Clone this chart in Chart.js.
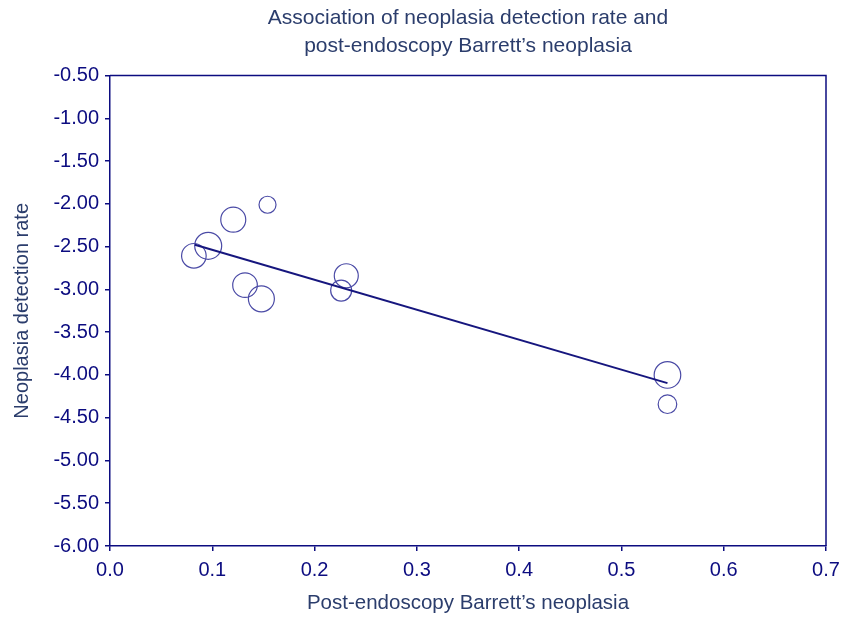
<!DOCTYPE html>
<html>
<head>
<meta charset="utf-8">
<script src="https://cdn.jsdelivr.net/npm/chart.js@4/dist/chart.umd.min.js"></script>
<style>
  html, body { margin: 0; padding: 0; background: #fff; }
  #wrap { width: 851px; height: 617px; }
</style>
</head>
<body>
<div id="wrap"><canvas id="myChart" width="851" height="617"></canvas></div>
<script>
// study values
var barrettRate = [0.154, 0.1205, 0.096, 0.082, 0.132, 0.148, 0.231, 0.226, 0.545, 0.545];
var detectionRate = [-2.01, -2.185, -2.49, -2.607, -2.95, -3.11, -2.84, -3.013, -4.0, -4.342];
var studyWeight = [8.5, 12.5, 13.5, 12.3, 12.3, 13, 12, 10.5, 13.3, 9.3];

// fitted regression line end points
var fitX = [0.083, 0.545];
var fitY = [-2.478, -4.096];

var yTicks = [-0.5, -1, -1.5, -2, -2.5, -3, -3.5, -4, -4.5, -5, -5.5, -6];
var xTicks = [0, 0.1, 0.2, 0.3, 0.4, 0.5, 0.6, 0.7];

var navy = '#0c0c80';
var titleColor = '#2b3d6c';
var fontFam = '"Liberation Sans", Arial, sans-serif';

var bubbles = barrettRate.map(function(x, i){
    return {x: x, y: detectionRate[i], r: studyWeight[i]};
});
var fitLine = fitX.map(function(x, i){
    return {x: x, y: fitY[i]};
});

// top and right edges of the frame
var framePlugin = {
    id: 'frame',
    afterDraw: function(chart){
        var a = chart.chartArea;
        var ctx = chart.ctx;
        ctx.save();
        ctx.strokeStyle = navy;
        ctx.lineWidth = 1.5;
        ctx.beginPath();
        ctx.moveTo(a.left, a.top);
        ctx.lineTo(a.right, a.top);
        ctx.lineTo(a.right, a.bottom);
        ctx.stroke();
        ctx.restore();
    }
};

const ctx = document.getElementById('myChart').getContext('2d');
const myChart = new Chart(ctx, {
    data: {
        datasets: [{
            type: 'bubble',
            data: bubbles,
            backgroundColor: 'rgba(0,0,0,0)',
            borderColor: '#4b4ba6',
            borderWidth: 1.2,
            order: 2
        }, {
            type: 'line',
            data: fitLine,
            borderColor: '#16167e',
            borderWidth: 2,
            pointRadius: 0,
            fill: false,
            order: 1
        }]
    },
    options: {
        responsive: false,
        animation: false,
        layout: {
            padding: {top: 0, left: 0, right: 25, bottom: 0}
        },
        plugins: {
            legend: {display: false},
            tooltip: {enabled: false},
            title: {
                display: true,
                fullSize: false,
                text: ['Association of neoplasia detection rate and', 'post-endoscopy Barrett\u2019s neoplasia'],
                color: titleColor,
                font: {family: fontFam, size: 21, weight: 'normal', lineHeight: 1.3},
                padding: {top: 5, bottom: 16}
            }
        },
        scales: {
            x: {
                type: 'linear',
                min: 0,
                max: 0.7,
                afterBuildTicks: function(scale){
                    scale.ticks = xTicks.map(function(v){ return {value: v}; });
                },
                afterFit: function(scale){ scale.height = 71; },
                ticks: {
                    color: navy,
                    font: {family: fontFam, size: 20},
                    padding: 7,
                    maxRotation: 0,
                    callback: function(v){ return v.toFixed(1); }
                },
                grid: {drawOnChartArea: false, drawTicks: true, tickLength: 5, color: navy, lineWidth: 1.5},
                border: {display: true, color: navy, width: 1.5},
                title: {
                    display: true,
                    text: 'Post-endoscopy Barrett\u2019s neoplasia',
                    color: titleColor,
                    font: {family: fontFam, size: 20.5},
                    padding: 1
                }
            },
            y: {
                type: 'linear',
                min: -6,
                max: -0.5,
                afterBuildTicks: function(scale){
                    scale.ticks = yTicks.map(function(v){ return {value: v}; });
                },
                afterFit: function(scale){ scale.width = 110; },
                ticks: {
                    color: navy,
                    font: {family: fontFam, size: 20},
                    padding: 6,
                    callback: function(v){ return v.toFixed(2); }
                },
                grid: {drawOnChartArea: false, drawTicks: true, tickLength: 5, color: navy, lineWidth: 1.5},
                border: {display: true, color: navy, width: 1.5},
                title: {
                    display: true,
                    text: 'Neoplasia detection rate',
                    color: titleColor,
                    font: {family: fontFam, size: 20},
                    padding: 10
                }
            }
        }
    },
    plugins: [framePlugin]
});
</script>
</body>
</html>
